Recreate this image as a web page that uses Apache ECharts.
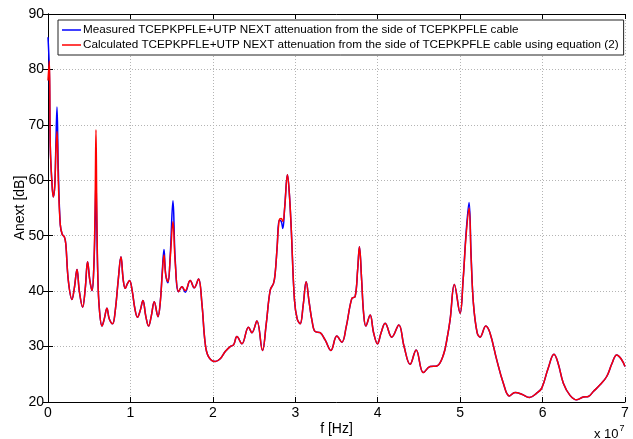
<!DOCTYPE html>
<html>
<head>
<meta charset="utf-8">
<script src="https://cdn.jsdelivr.net/npm/echarts@6/dist/echarts.min.js"></script>
<style>
  html, body { margin: 0; padding: 0; background: #fff; }
  #chart { width: 633px; height: 439px; }
</style>
</head>
<body>
<div id="chart"></div>
<script>
// frequency in units of 10^7 Hz
var freq = [
  0.000, 0.016, 0.028, 0.046, 0.064, 0.082, 0.095, 0.109, 0.125, 0.149,
  0.173, 0.198, 0.216, 0.246, 0.291, 0.319, 0.352, 0.380, 0.420, 0.452,
  0.480, 0.507, 0.534, 0.555, 0.571, 0.582, 0.592, 0.604, 0.622, 0.655,
  0.683, 0.715, 0.743, 0.783, 0.816, 0.852, 0.885, 0.913, 0.937, 0.962,
  0.989, 1.022, 1.052, 1.086, 1.119, 1.152, 1.186, 1.220, 1.253, 1.289,
  1.334, 1.362, 1.386, 1.407, 1.428, 1.455, 1.483, 1.516, 1.544, 1.584,
  1.625, 1.665, 1.725, 1.774, 1.826, 1.867, 1.907, 1.947, 2.029, 2.089,
  2.150, 2.210, 2.251, 2.292, 2.352, 2.432, 2.474, 2.534, 2.602, 2.647,
  2.696, 2.736, 2.756, 2.780, 2.805, 2.829, 2.849, 2.871, 2.905, 2.926,
  2.950, 2.990, 3.023, 3.059, 3.096, 3.132, 3.168, 3.205, 3.241, 3.302,
  3.362, 3.432, 3.504, 3.565, 3.617, 3.686, 3.726, 3.757, 3.778, 3.805,
  3.829, 3.856, 3.908, 3.950, 3.997, 4.041, 4.090, 4.171, 4.256, 4.320,
  4.393, 4.466, 4.554, 4.636, 4.717, 4.797, 4.842, 4.878, 4.930, 4.999,
  5.036, 5.072, 5.108, 5.133, 5.161, 5.206, 5.242, 5.311, 5.363, 5.444,
  5.524, 5.597, 5.666, 5.747, 5.840, 5.929, 5.990, 6.066, 6.139, 6.188,
  6.252, 6.333, 6.414, 6.494, 6.555, 6.616, 6.697, 6.778, 6.843, 6.899,
  6.952, 7.000
];

var measured = [
  85.8, 80.0, 66.0, 60.0, 57.0, 59.0, 66.0, 73.2, 62.0, 52.0,
  50.2, 49.8, 48.5, 42.0, 38.5, 40.5, 43.9, 40.0, 37.1, 40.5,
  45.3, 42.0, 40.1, 44.0, 52.0, 60.0, 52.0, 43.0, 37.0, 33.7,
  35.0, 36.9, 35.0, 34.1, 36.5, 42.0, 46.2, 42.0, 40.5, 41.3,
  41.9, 40.0, 37.0, 35.3, 36.5, 38.3, 35.5, 33.7, 35.5, 38.1,
  35.4, 38.0, 43.5, 47.5, 43.0, 41.5, 46.5, 56.3, 45.5, 39.9,
  40.8, 39.8, 41.9, 40.6, 42.2, 37.8, 30.6, 28.2, 27.3, 27.8,
  29.1, 30.0, 30.3, 31.8, 30.5, 33.5, 32.5, 34.6, 29.3, 34.0,
  40.2, 41.4, 43.2, 48.0, 52.8, 52.6, 51.3, 55.0, 61.0, 58.0,
  51.6, 38.4, 35.0, 34.1, 37.5, 41.7, 38.0, 34.5, 32.7, 32.5,
  31.2, 29.3, 31.9, 30.8, 33.5, 38.7, 39.0, 44.0, 48.0, 42.0,
  36.0, 33.7, 35.7, 32.5, 30.5, 32.5, 34.2, 31.7, 33.9, 30.0,
  26.8, 29.4, 25.3, 26.4, 26.5, 28.5, 31.5, 34.8, 41.2, 36.0,
  42.0, 50.5, 56.0, 46.5, 37.8, 32.5, 31.7, 33.7, 32.4, 27.6,
  23.4, 21.1, 21.7, 21.4, 20.8, 21.6, 22.5, 26.0, 28.6, 27.0,
  23.4, 21.2, 20.4, 20.9, 21.0, 21.9, 23.1, 24.6, 27.0, 28.5,
  27.8, 26.4
];

var calculated = [
  78.0, 81.5, 66.0, 60.0, 57.0, 59.0, 65.0, 68.8, 60.0, 52.0,
  50.2, 49.8, 48.5, 42.0, 38.5, 40.5, 43.9, 40.0, 37.1, 40.5,
  45.3, 42.0, 40.1, 44.0, 55.0, 69.1, 55.0, 43.0, 37.0, 33.7,
  35.0, 36.9, 35.0, 34.1, 36.5, 42.0, 46.2, 42.0, 40.5, 41.3,
  41.9, 40.0, 37.0, 35.3, 36.5, 38.3, 35.5, 33.7, 35.5, 38.1,
  35.4, 38.0, 43.0, 46.5, 43.0, 41.7, 46.0, 52.5, 45.0, 39.9,
  40.8, 40.1, 41.9, 40.6, 42.2, 37.8, 30.6, 28.2, 27.3, 27.8,
  29.1, 30.0, 30.3, 31.8, 30.5, 33.5, 32.5, 34.6, 29.3, 34.0,
  40.2, 41.4, 43.2, 48.0, 52.8, 53.1, 52.6, 55.0, 61.0, 58.0,
  51.6, 38.4, 35.0, 34.1, 37.5, 41.7, 38.0, 34.5, 32.7, 32.5,
  31.2, 29.3, 31.9, 30.8, 33.5, 38.7, 39.0, 44.0, 48.0, 42.0,
  36.0, 33.7, 35.7, 32.5, 30.5, 32.5, 34.2, 31.7, 33.9, 30.0,
  26.8, 29.4, 25.3, 26.4, 26.5, 28.5, 31.5, 34.8, 41.2, 36.0,
  42.0, 50.0, 55.0, 46.0, 37.8, 32.5, 31.7, 33.7, 32.4, 27.6,
  23.4, 21.1, 21.7, 21.4, 20.8, 21.6, 22.5, 26.0, 28.6, 27.0,
  23.4, 21.2, 20.4, 20.9, 21.0, 21.9, 23.1, 24.6, 27.0, 28.5,
  27.8, 26.4
];

var xTicks = [0, 1, 2, 3, 4, 5, 6, 7];
var yTicks = [20, 30, 40, 50, 60, 70, 80, 90];

var legendNames = [
  'Measured TCEPKPFLE+UTP NEXT attenuation from the side of TCEPKPFLE cable',
  'Calculated TCEPKPFLE+UTP NEXT attenuation from the side of TCEPKPFLE cable using equation (2)'
];

function pairs(xs, ys) {
  var out = [];
  for (var i = 0; i < xs.length; i++) {
    out.push([xs[i], ys[i]]);
  }
  return out;
}

var font = 'Liberation Sans, Arial, Helvetica, sans-serif';

var chart = echarts.init(document.getElementById('chart'), null, { renderer: 'canvas' });

var baseX = {
  type: 'value',
  min: xTicks[0],
  max: xTicks[xTicks.length - 1],
  interval: 1,
  axisLine: { lineStyle: { color: '#000', width: 1 } },
  axisTick: { inside: true, length: 5, lineStyle: { color: '#000' } }
};
var baseY = {
  type: 'value',
  min: yTicks[0],
  max: yTicks[yTicks.length - 1],
  interval: 10,
  axisLine: { lineStyle: { color: '#000', width: 1 } },
  axisTick: { inside: true, length: 5, lineStyle: { color: '#000' } }
};

chart.setOption({
  animation: false,
  backgroundColor: '#fff',
  grid: { left: 48, right: 8, top: 14, bottom: 37, containLabel: false, outerBoundsMode: 'none' },
  legend: {
    orient: 'vertical',
    left: 58,
    top: 20,
    padding: [4, 5, 4, 4],
    itemGap: 3,
    itemWidth: 19,
    itemHeight: 1.5,
    icon: 'rect',
    backgroundColor: '#fff',
    borderColor: '#222',
    borderWidth: 1,
    textStyle: { fontFamily: font, fontSize: 11.7, color: '#000', padding: [0, 0, 0, -3] },
    data: legendNames
  },
  xAxis: [
    Object.assign({}, baseX, {
      position: 'bottom',
      name: 'f [Hz]',
      nameLocation: 'middle',
      nameGap: 20,
      nameMoveOverlap: false,
      nameTextStyle: { fontFamily: font, fontSize: 14, color: '#000' },
      axisLabel: { fontFamily: font, fontSize: 14, color: '#000', margin: 4 },
      splitLine: { show: true, lineStyle: { color: '#b4b4b4', type: [1, 2], width: 1 } }
    }),
    Object.assign({}, baseX, {
      position: 'top',
      axisLabel: { show: false },
      splitLine: { show: false }
    })
  ],
  yAxis: [
    Object.assign({}, baseY, {
      position: 'left',
      name: 'Anext [dB]',
      nameLocation: 'middle',
      nameGap: 21,
      nameMoveOverlap: false,
      nameTextStyle: { fontFamily: font, fontSize: 14, color: '#000' },
      axisLabel: { fontFamily: font, fontSize: 14, color: '#000', margin: 4 },
      splitLine: { show: true, lineStyle: { color: '#b4b4b4', type: [1, 2], width: 1 } }
    }),
    Object.assign({}, baseY, {
      position: 'right',
      axisLabel: { show: false },
      splitLine: { show: false }
    })
  ],
  graphic: [
    {
      type: 'text',
      left: 594,
      top: 424,
      style: {
        text: '{a|x 10}{b|7}',
        rich: {
          a: { fontFamily: font, fontSize: 13, color: '#000', verticalAlign: 'bottom' },
          b: { fontFamily: font, fontSize: 9, color: '#000', verticalAlign: 'top', padding: [0, 0, 8, 1] }
        }
      }
    }
  ],
  series: [
    {
      name: legendNames[0],
      type: 'line',
      data: pairs(freq, measured),
      symbol: 'none',
      smooth: 0.4,
      lineStyle: { color: '#0000ff', width: 1.5 },
      itemStyle: { color: '#0000ff' },
      z: 2
    },
    {
      name: legendNames[1],
      type: 'line',
      data: pairs(freq, calculated),
      symbol: 'none',
      smooth: 0.4,
      lineStyle: { color: '#ff0000', width: 1.5 },
      itemStyle: { color: '#ff0000' },
      z: 3
    }
  ]
});
</script>
</body>
</html>
